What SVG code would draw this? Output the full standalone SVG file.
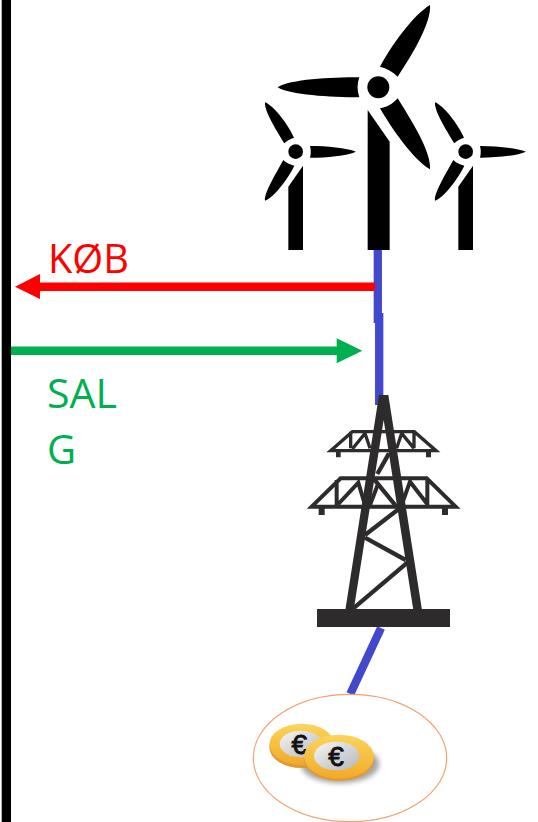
<svg xmlns="http://www.w3.org/2000/svg" width="538" height="822" viewBox="0 0 538 822">
<style>
.lbl{font-family:"Open Sans","Noto Sans",sans-serif;font-size:40px}
.pl{stroke:#4148cb;stroke-width:8.3;fill:none}
.st{stroke:#2d2b2c;fill:none;stroke-linejoin:miter}
.eu{font-family:"Liberation Sans",sans-serif;font-size:84px;fill:#111;stroke:#111;stroke-width:2.500;text-anchor:middle}
</style>
<defs>
<g id="small">
<circle cx="137" cy="455" r="22"/>
<path d="M180 438C230 438 290 444 318 455C290 467 230 473 180 473C183 462 183 449 180 438Z"/>
<path d="M103 430C75 385 42 330 45 307C72 318 112 370 132 413C121 416 111 422 103 430Z"/>
<path d="M100 480C75 525 42 580 45 602C72 592 112 540 133 497C121 494 108 489 100 480Z"/>
<path d="M115 560L159 497V750H115Z"/>
</g>
<linearGradient id="gold" x1="0" y1="0" x2="0" y2="1"><stop offset="0" stop-color="#fbd65a"/><stop offset="1" stop-color="#f2a928"/></linearGradient>
<linearGradient id="silver" x1="0" y1="0" x2="1" y2="1"><stop offset="0" stop-color="#f6f6f6"/><stop offset="1" stop-color="#b5b6ba"/></linearGradient>
<filter id="blur" x="-20%" y="-20%" width="140%" height="140%"><feGaussianBlur stdDeviation="8"/></filter>
</defs>

<rect id="bar" x="1.700" y="0" width="9.300" height="822" fill="#000"/>

<g id="connectors">
<path class="pl" d="M377.8 250V323"/>
<path class="pl" d="M379.2 313V405"/>
<path class="pl" stroke-width="7" d="M381 628L350.300 694"/>
<path d="M375 282.400H40V274L15 286.700L40 299V291H375Z" fill="#f00"/>
<path d="M11 346.400H336.700V338.300L362.300 350.700L336.700 363.300V355H11Z" fill="#00b050"/>
</g>

<g id="turbine-left" transform="translate(250 0) scale(.33333)"><use href="#small"/></g>
<g id="turbine-right" transform="translate(420 0) scale(.33333)"><use href="#small"/></g>
<g id="turbine-main" transform="translate(250 0) scale(.33333)">
<circle cx="385" cy="262" r="33"/>
<path d="M390 200C425 135 490 45 540 15C545 65 490 160 443 230C428 215 410 205 390 200Z"/>
<path d="M328 232C240 232 120 238 83 262C120 285 240 292 328 292C321 272 321 252 328 232Z"/>
<path d="M390 325C425 385 490 480 540 508C545 460 490 370 443 295C428 312 410 322 390 325Z"/>
<path d="M353 330L419 425V750H353Z"/>
</g>

<g id="pylon" transform="translate(290 380) scale(.33333)">
<path d="M267 45H295L396 690H370L281 120L191 690H166Z" fill="#2d2b2c"/>
<rect x="81" y="687" width="399" height="54" fill="#2d2b2c"/>
<path class="st" stroke-width="13" d="M190 685L352 548M347 540L225 473M225 465L325 388M262 282L297 220M250 295L318 378"/>
<path class="st" stroke-width="10" d="M122 212L187 155H373L438 212ZM182 155V205M187 207L225 160L240 205M320 205L335 160L372 205M372 155V205"/>
<path class="st" stroke-width="12" d="M65 380L152 295H410L497 380ZM140 300V375M145 372L205 308L225 375M335 375L360 305L410 370M412 300V375M240 375L265 310"/>
<path d="M138 212H152V232H138ZM408 212H423V232H408ZM86 380H104V405H86ZM456 380H474V405H456Z" fill="#2d2b2c"/>
</g>

<g id="coins">
<ellipse cx="350" cy="758" rx="96.700" ry="63.700" fill="#fff" stroke="#f4a070" stroke-width="1.200"/>
<g transform="translate(240 620) scale(.33333)">
<ellipse cx="300" cy="432" rx="118" ry="58" fill="#000" opacity=".35" filter="url(#blur)"/>
<ellipse cx="185" cy="382" rx="97" ry="62" fill="#e09a35"/>
<ellipse cx="185" cy="373" rx="97" ry="62" fill="url(#gold)"/>
<ellipse cx="183" cy="372" rx="64" ry="40" fill="url(#silver)"/>
<text class="eu" x="178" y="402">€</text>
<ellipse cx="297" cy="418" rx="105" ry="65" fill="#e09a35"/>
<ellipse cx="297" cy="410" rx="105" ry="66" fill="url(#gold)"/>
<ellipse cx="290" cy="408" rx="68" ry="43" fill="url(#silver)"/>
<text class="eu" x="288" y="438">€</text>
</g>
</g>

<g id="labels">
<text class="lbl" x="48" y="273" fill="#f00" textLength="81" lengthAdjust="spacingAndGlyphs">KØB</text>
<text class="lbl" x="47" y="407.500" fill="#00b050" textLength="70" lengthAdjust="spacingAndGlyphs">SAL</text>
<text class="lbl" x="47" y="464" fill="#00b050">G</text>
</g>
</svg>
